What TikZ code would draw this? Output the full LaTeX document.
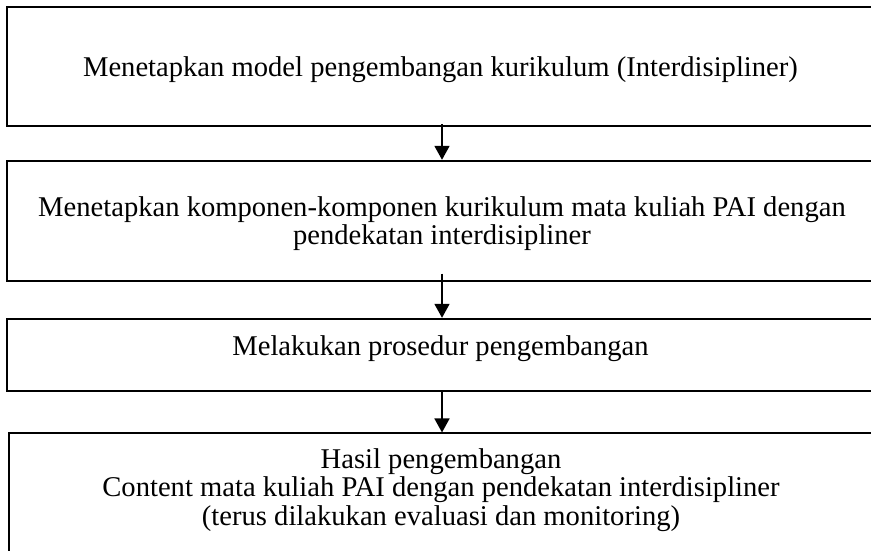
\documentclass[tikz,border=0pt]{standalone}
\usepackage{fontspec}
\setmainfont{Liberation Serif}
\usetikzlibrary{arrows.meta}
\begin{document}
\begin{tikzpicture}[x=1pt,y=-1pt,
  box/.style={draw=black,line width=1.8pt,rectangle,inner sep=0pt},
  txt/.style={font=\fontsize{28.6}{28.5}\selectfont,align=center,anchor=base,inner sep=0pt},
  arr/.style={line width=1.8pt,-{Triangle[width=15pt,length=14pt]}}]
\useasboundingbox (0,0) rectangle (871,551);
\clip (0,0) rectangle (871,551);
\node[box,minimum width=867pt,minimum height=119.3pt] (b1) at (440.5,66.3) {};
\node[box,minimum width=867pt,minimum height=120pt] (b2) at (440.5,220.7) {};
\node[box,minimum width=867pt,minimum height=72pt] (b3) at (440.5,354.7) {};
\node[box,minimum width=863.7pt,minimum height=126.7pt] (b4) at (441.2,496.7) {};
\node[txt] (t1) at (440.5,77) {Menetapkan model pengembangan kurikulum (Interdisipliner)};
\node[txt] (t2) at (442,244.5) {Menetapkan komponen-komponen kurikulum mata kuliah PAI dengan\\pendekatan interdisipliner};
\node[txt] (t3) at (440.5,355) {Melakukan prosedur pengembangan};
\node[txt] (t4) at (441,525) {Hasil pengembangan\\Content mata kuliah PAI dengan pendekatan interdisipliner\\(terus dilakukan evaluasi dan monitoring)};
\draw[arr] ([xshift=1.5pt,yshift=3pt]b1.south) -- ([xshift=1.5pt]b2.north);
\draw[arr] ([xshift=1.5pt,yshift=8pt]b2.south) -- ([xshift=1.5pt]b3.north);
\draw[arr] ([xshift=1.5pt]b3.south) -- ([xshift=0.8pt]b4.north);
\end{tikzpicture}
\end{document}
